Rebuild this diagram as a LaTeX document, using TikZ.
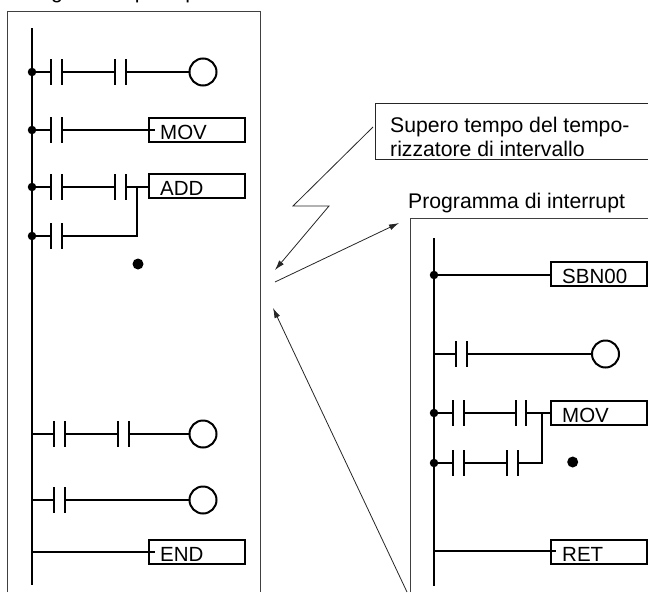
\documentclass[tikz,border=0pt]{standalone}
\usepackage{fontspec}
\setmainfont{Liberation Sans}
\usetikzlibrary{arrows.meta}
\tikzset{
  wire/.style={line width=2pt},
  rail/.style={line width=2.3pt},
  thinline/.style={line width=0.8pt,color=black!85},
  pointer/.style={thinline,-{Latex[length=10pt,width=6pt]}},
  frame/.style={line width=1pt,color=black!75},
  joint/.style={circle,fill=black,inner sep=0pt,minimum size=8.5pt},
  coil/.style={circle,draw,line width=2pt,fill=white,inner sep=0pt,minimum size=27pt},
  instr/.style={rectangle,draw,line width=2.2pt,inner sep=0pt,minimum width=96pt,minimum height=24pt},
  instrtext/.style={anchor=base west,inner sep=0pt,font=\fontsize{20.5}{24}\selectfont},
  plaintext/.style={anchor=base west,inner sep=0pt,font=\fontsize{21.2}{24}\selectfont}
}
% two bars of a contact, with its two ends as coordinates
\newcommand{\contact}[4]{
  \draw[wire] (#2,#4-13) -- (#2,#4+13);
  \draw[wire] (#3,#4-13) -- (#3,#4+13);
  \coordinate (#1a) at (#2,#4);
  \coordinate (#1b) at (#3,#4);
}
\begin{document}
\begin{tikzpicture}[x=1pt,y=-1pt]
  \path[use as bounding box,clip] (0,0) rectangle (648,592);
  % Programa principal
  \node[plaintext] (maintitle) at (18,-1.2) {Programma principale};
  \draw[frame] (7.5,592) -- (7.5,11) -- (260,11) -- (260,592);
  \coordinate (railtop) at (32,28);
  \coordinate (railend) at (32,585);
  \draw[rail] (railtop) -- (railend);
  % Primer renglon
  \node[joint] (j1) at (32,72) {};
  \contact{ca}{51}{62}{72}
  \contact{cb}{115}{126}{72}
  \node[coil] (coila) at (203,72) {};
  \draw[wire] (j1) -- (caa);
  \draw[wire] (cab) -- (cba);
  \draw[wire] (cbb) -- (coila);
  % MOV
  \node[joint] (j2) at (32,130) {};
  \contact{cc}{51}{62}{130}
  \node[instr] (mova) at (197,130) {};
  \node[instrtext] (movatext) at (160,139) {MOV};
  \draw[wire] (j2) -- (cca);
  \draw[wire] (ccb) -- ([xshift=7pt]mova.west);
  % ADD
  \node[joint] (j3) at (32,187) {};
  \contact{cd}{51}{62}{187}
  \contact{ce}{115}{126}{187}
  \node[instr] (add) at (197,186) {};
  \node[instrtext] (addtext) at (160,195) {ADD};
  \coordinate (addjoin) at (137,187);
  \draw[wire] (j3) -- (cda);
  \draw[wire] (cdb) -- (cea);
  \draw[wire] (ceb) -- (add.west |- addjoin);
  \node[joint] (j4) at (32,236) {};
  \contact{cf}{51}{62}{236}
  \coordinate (addcorner) at (137,236);
  \draw[wire] (j4) -- (cfa);
  \draw[wire] (cfb) -- (addcorner) -- (addjoin);
  \node[joint,minimum size=11pt] (dota) at (138,264) {};
  % Renglones finales
  \coordinate (r5) at (32,434);
  \contact{cg}{53.5}{64.5}{434}
  \contact{ch}{117.5}{128.5}{434}
  \node[coil] (coilb) at (203,434) {};
  \draw[wire] (r5) -- (cga);
  \draw[wire] (cgb) -- (cha);
  \draw[wire] (chb) -- (coilb);
  \coordinate (r6) at (32,500);
  \contact{ci}{53.5}{64.5}{500}
  \node[coil] (coilc) at (203,500) {};
  \draw[wire] (r6) -- (cia);
  \draw[wire] (cib) -- (coilc);
  \coordinate (r7) at (32,552);
  \node[instr] (endbox) at (197,552) {};
  \node[instrtext] (endtext) at (160,561) {END};
  \draw[wire] (r7) -- ([xshift=7pt]endbox.west);
  % Nota
  \coordinate (notea) at (648,103);
  \coordinate (noteb) at (375,103);
  \coordinate (notec) at (375,159);
  \coordinate (noted) at (648,159);
  \draw[thinline] (notea) -- (noteb) -- (notec) -- (noted);
  \node[plaintext] (notetexta) at (390,132) {Supero tempo del tempo-};
  \node[plaintext] (notetextb) at (390,156) {rizzatore di intervallo};
  % Flechas
  \coordinate (zstart) at (373,127);
  \coordinate (zleft) at (293,206);
  \coordinate (zright) at (329,206);
  \coordinate (zend) at (275,270);
  \draw[pointer] (zstart) -- (zleft) -- (zright) -- (zend);
  \coordinate (calla) at (275,282);
  \coordinate (callb) at (399,223);
  \draw[pointer] (calla) -- (callb);
  \coordinate (backa) at (407,592);
  \coordinate (backb) at (273,308);
  \draw[pointer] (backa) -- (backb);
  % Programa de interrupcion
  \node[plaintext] (inttitle) at (408,208) {Programma di interrupt};
  \draw[frame] (410,592) -- (410,218) -- (648,218);
  \coordinate (railtopb) at (434,238);
  \coordinate (railendb) at (434,586);
  \draw[rail] (railtopb) -- (railendb);
  \node[joint] (k1) at (434,275) {};
  \node[instr] (sbn) at (599,274) {};
  \node[instrtext] (sbntext) at (562,283.5) {SBN00};
  \draw[wire] (k1) -- ([xshift=2pt]sbn.west |- k1);
  \coordinate (s2) at (434,354);
  \contact{da}{456}{467}{354}
  \node[coil] (coild) at (605.5,354) {};
  \draw[wire] (s2) -- (daa);
  \draw[wire] (dab) -- (coild);
  \node[joint] (k3) at (434,413) {};
  \contact{db}{453}{464}{413}
  \contact{dc}{516}{526}{413}
  \node[instr] (movb) at (599,413) {};
  \node[instrtext] (movbtext) at (562,422) {MOV};
  \coordinate (movjoin) at (542,413);
  \draw[wire] (k3) -- (dba);
  \draw[wire] (dbb) -- (dca);
  \draw[wire] (dcb) -- (movb.west |- movjoin);
  \node[joint] (k4) at (434,463) {};
  \contact{dd}{453}{464}{463}
  \contact{de}{507}{518}{463}
  \coordinate (movcorner) at (542,463);
  \draw[wire] (k4) -- (dda);
  \draw[wire] (ddb) -- (dea);
  \draw[wire] (deb) -- (movcorner) -- (movjoin);
  \node[joint,minimum size=11pt] (dotb) at (572.7,462) {};
  \coordinate (s5) at (434,551);
  \node[instr] (ret) at (599,552) {};
  \node[instrtext] (rettext) at (562,561) {RET};
  \draw[wire] (s5) -- ([xshift=6pt]ret.west |- s5);
\end{tikzpicture}
\end{document}
